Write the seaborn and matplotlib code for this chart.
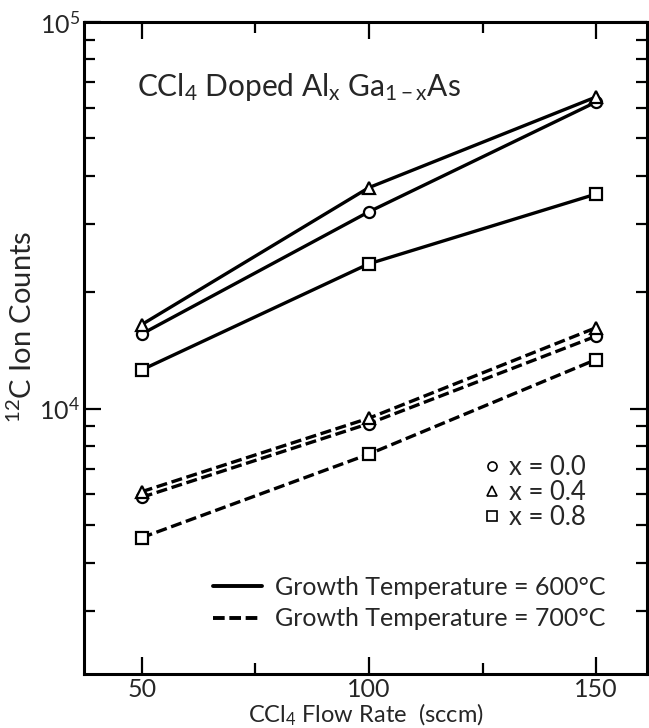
import matplotlib
matplotlib.use("Agg")
import matplotlib.pyplot as plt
from matplotlib.lines import Line2D
from matplotlib.ticker import LogLocator, NullFormatter, FixedLocator
import seaborn as sns
import pandas as pd

# ---- data ----
flow_rate = [50, 100, 150]
compositions = ["0.0", "0.4", "0.8"]
temperatures = ["600", "700"]
counts_600_x00 = [15600, 32300, 62100]
counts_600_x04 = [16500, 37300, 64000]
counts_600_x08 = [12600, 23700, 35900]
counts_700_x00 = [5900, 9150, 15400]
counts_700_x04 = [6100, 9450, 16200]
counts_700_x08 = [4640, 7630, 13400]

series = {
    ("600", "0.0"): counts_600_x00,
    ("600", "0.4"): counts_600_x04,
    ("600", "0.8"): counts_600_x08,
    ("700", "0.0"): counts_700_x00,
    ("700", "0.4"): counts_700_x04,
    ("700", "0.8"): counts_700_x08,
}
rows = []
for (t, c), vals in series.items():
    for f, v in zip(flow_rate, vals):
        rows.append({"temp": t, "comp": c, "flow": f, "counts": v})
df = pd.DataFrame(rows)

sns.set_style("ticks")
plt.rcParams["font.family"] = ["Lato", "DejaVu Sans"]
plt.rcParams["mathtext.fontset"] = "custom"
plt.rcParams["mathtext.rm"] = "Lato"
plt.rcParams["mathtext.it"] = "Lato:italic"
plt.rcParams["mathtext.bf"] = "Lato:bold"

markers = {"0.0": "o", "0.4": "^", "0.8": "s"}
msizes = {"0.0": 8, "0.4": 8.5, "0.8": 8}
dash_styles = {"600": None, "700": (3.3, 1.4)}

fig = plt.figure(figsize=(6.49, 7.28), dpi=100)
ax = fig.add_axes([84 / 649, 54 / 728, 563 / 649, 652 / 728])

for (t, c), sub in df.groupby(["temp", "comp"]):
    kws = dict(color="black", linewidth=2.4, marker=markers[c], markersize=msizes[c],
               markerfacecolor="white", markeredgecolor="black", markeredgewidth=1.6,
               legend=False, errorbar=None)
    if dash_styles[t] is not None:
        kws["dashes"] = dash_styles[t]
    sns.lineplot(data=sub, x="flow", y="counts", ax=ax, **kws)

ax.set_yscale("log")
ax.set_xlim(37.3, 161.2)
ax.set_ylim(2060, 1e5)
ax.xaxis.set_major_locator(FixedLocator([50, 100, 150]))
ax.xaxis.set_minor_locator(FixedLocator([75, 125]))
ax.yaxis.set_major_locator(LogLocator(base=10, numticks=10))
ax.yaxis.set_minor_locator(LogLocator(base=10, subs=range(2, 10), numticks=20))
ax.yaxis.set_minor_formatter(NullFormatter())

for s in ax.spines.values():
    s.set_visible(True)
    s.set_linewidth(2.2)
    s.set_color("black")

ax.tick_params(which="both", direction="in", top=True, right=True, color="black")
ax.tick_params(which="major", length=12, width=1.6, labelsize=18, pad=3)
ax.tick_params(which="minor", length=8, width=1.6)
ax.tick_params(axis="y", which="major", labelsize=18, pad=3)

ax.set_xlabel("CCl$_4$ Flow Rate  (sccm)", fontsize=17)
ax.xaxis.set_label_coords(0.5, -0.043)
ax.set_ylabel("$^{12}$C Ion Counts", fontsize=21)
ax.yaxis.set_label_coords(-0.083, 0.532)

ax.text(0.094, 0.900, r"CCl$_4$ Doped Al$_{\mathrm{x}}$ Ga$_{\mathrm{1-x}}$As",
        transform=ax.transAxes, fontsize=21.5, ha="left", va="center")

marker_handles = [Line2D([], [], linestyle="none", marker=markers[c], markersize=6.5,
                         markerfacecolor="white", markeredgecolor="black",
                         markeredgewidth=1.2) for c in compositions]
leg1 = ax.legend(marker_handles, [f"x = {c}" for c in compositions],
                 loc="upper left", bbox_to_anchor=(0.709, 0.336), frameon=False,
                 fontsize=18.5, handlelength=0.7, handletextpad=0.3,
                 labelspacing=0.0, borderpad=0, borderaxespad=0, numpoints=1)
ax.add_artist(leg1)

line_handles = [Line2D([], [], color="black", linewidth=2.8),
                Line2D([], [], color="black", linewidth=2.8, dashes=(3.0, 1.2))]
ax.legend(line_handles, [f"Growth Temperature = {t}°C" for t in temperatures],
          loc="upper left", bbox_to_anchor=(0.229, 0.151), frameon=False,
          fontsize=18, handlelength=1.95, handletextpad=0.55,
          labelspacing=0.35, borderpad=0, borderaxespad=0)

fig.savefig("out.png", dpi=100)
